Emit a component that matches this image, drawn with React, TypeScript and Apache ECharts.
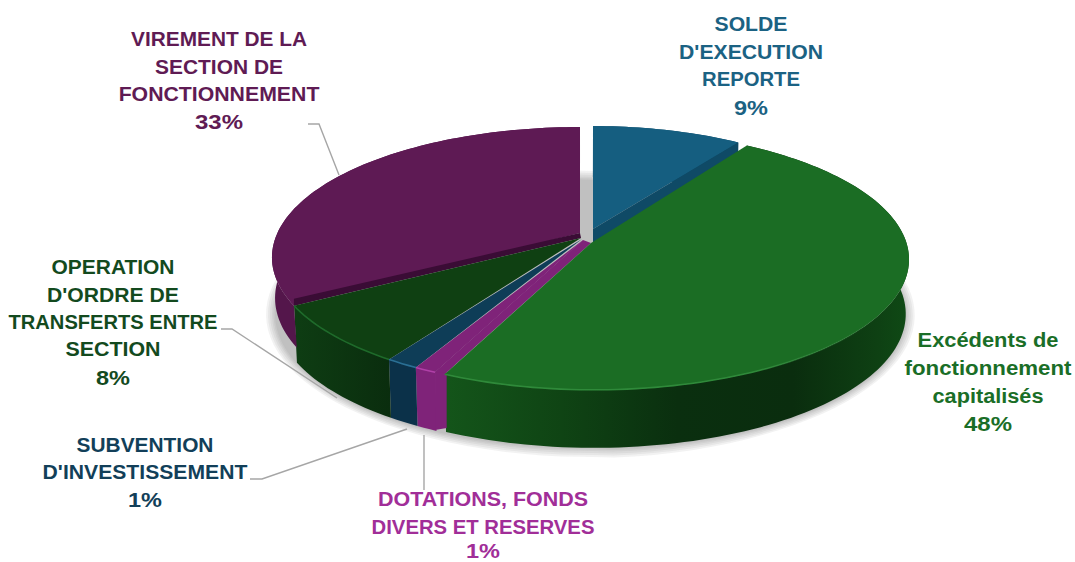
import React, { useEffect, useRef } from "react";
import * as echarts from "echarts";

// ---------- data ----------
const categories = [
  ["SOLDE", "D'EXECUTION", "REPORTE"],
  ["Excédents de", "fonctionnement", "capitalisés"],
  ["DOTATIONS, FONDS", "DIVERS ET RESERVES"],
  ["SUBVENTION", "D'INVESTISSEMENT"],
  ["OPERATION", "D'ORDRE DE", "TRANSFERTS ENTRE", "SECTION"],
  ["VIREMENT DE LA", "SECTION DE", "FONCTIONNEMENT"],
];
const values = [9.3, 47.5, 1.0, 1.49, 7.51, 33.2];

// ---------- styles / layout ----------
const labelColors = ["#1B6283", "#1A6E27", "#A12E98", "#123F59", "#134A1E", "#5F1B54"];
const topColors = ["#155E80", "#1B6D24", "#7F2379", "#0E3D57", "#0F4012", "#5E1A54"];
const wallColors = ["#0F4A66", "#0C3F12", "#7F2379", "#0B3149", "#0B3210", "#54164B"];
const rimColors = ["#155E80", "#2F8A3A", "#B040A8", "#2A6F94", "#1E6A2A", "#5E1A54"];
const zOrder = [15, 17, 14, 13, 12, 10];
const apexes = [[593, 229], [591, 243], [583, 240], [582, 239], [581, 238], [580, 233]];
const rimOffsets = [[11, -1], [12, 2], [0, 0], [0, 0], [0, 0], [-2, 0]];
const radiiX = [296, 311.5, 306.6, 306.6, 306.6, 304.6];
const wallHeights = [55, 54, 55, 55, 55, 40];
const CX = 582, CY = 238, RY = 127.5, K = 0.149;

const labelCenters = [751, 988, 483, 145, 113, 219];
const labelLineYs = [
  [24, 52, 79, 108],
  [340, 368, 396, 424],
  [499, 527, 551],
  [445, 472, 500],
  [267, 295, 322, 349, 378],
  [39, 67, 94, 122],
];
const labelWidths = [
  [73, 144, 98, 34],
  [141, 167, 111, 48],
  [210, 223, 34],
  [137, 205, 34],
  [123, 132, 209, 95, 34],
  [176, 128, 201, 48],
];
const leaderLines = [
  [[308, 124], [319, 124], [339, 175]],
  [[221, 329], [232, 329], [337, 398]],
  [[250, 479], [262, 479], [407, 429]],
  [[424, 435], [424, 490]],
];
const FONT_SIZE = 20;
const FONT_FAMILY = '"Liberation Sans", Arial, sans-serif';

// ---------- geometry ----------
const total = values.reduce((a, b) => a + b, 0);
const bounds: number[] = [0];
values.forEach((v) => bounds.push(bounds[bounds.length - 1] + (v / total) * 360));

function rim(deg: number, i: number): number[] {
  const t = (deg * Math.PI) / 180;
  const u = Math.sin(t), v = -Math.cos(t), d = 1 - K * v;
  return [CX + rimOffsets[i][0] + (radiiX[i] * u) / d, CY + rimOffsets[i][1] + (RY * v) / d];
}
function lower(deg: number, i: number): number[] {
  const p = rim(deg, i);
  const v = -Math.cos((deg * Math.PI) / 180);
  return [CX + (p[0] - CX) * 0.99, p[1] + wallHeights[i] + 4 * v];
}
function arc(a: number, b: number, i: number, f = rim): number[][] {
  const pts: number[][] = [];
  const n = Math.max(2, Math.ceil(Math.abs(b - a) / 1.5));
  for (let s = 0; s <= n; s++) pts.push(f(a + ((b - a) * s) / n, i));
  return pts;
}
const hGrad = (stops: [number, string][]) =>
  new echarts.graphic.LinearGradient(0, 0, 1, 0, stops.map(([offset, color]) => ({ offset, color })));

function renderSlice(params: any) {
  const i = params.dataIndex;
  const a = bounds[i], b = bounds[i + 1];
  const children: any[] = [];
  const apex = apexes[i];
  const top = arc(a, b, i);
  const start = rim(a, i), end = rim(b, i);

  // outer wall
  let wallFill: any = wallColors[i];
  if (i === 1) {
    wallFill = hGrad([
      [0, "#14551A"], [0.25, "#0F4414"], [0.5, "#0A2F0F"], [0.75, "#0A2D0E"], [0.93, "#0E4013"], [1, "#0F4A15"],
    ]);
  }
  if (i === 4) wallFill = hGrad([[0, "#0E3D13"], [1, "#0A2D0E"]]);
  if (i === 5) wallFill = "#54164B";
  children.push({
    type: "polygon",
    z2: 3 + i,
    shape: { points: [...arc(a, b, i), ...arc(b, a, i, lower)] },
    style: { fill: wallFill },
  });

  // top face
  children.push({
    type: "polygon",
    z2: zOrder[i],
    shape: { points: [apex, ...top] },
    style: { fill: topColors[i] },
  });

  // cut faces
  if (i === 0) {
    children.push({
      type: "polygon",
      z2: 16,
      shape: { points: [apex, end, [end[0], end[1] + 10], [apex[0], apex[1] + 16]] },
      style: { fill: wallColors[0] },
    });
  }
  if (i === 2) {
    const nextStart = rim(a, 1);
    const low = lower(a, 2);
    children.push({
      type: "polygon",
      z2: 9,
      shape: {
        points: [apex, start, [start[0], low[1] - 1], [nextStart[0] + 2, low[1] - 3], [nextStart[0] + 2, start[1]]],
      },
      style: { fill: topColors[2] },
    });
    children.push({
      type: "polygon",
      z2: 14,
      shape: { points: [apex, start, [nextStart[0] + 2, start[1]], apexes[1]] },
      style: { fill: topColors[2] },
    });
  }
  if (i === 5) {
    children.push({
      type: "polygon",
      z2: 11,
      shape: { points: [apex, [start[0], start[1] - 7], start, apexes[4]] },
      style: { fill: "#3A0C35" },
    });
  }

  // lit rim
  if (i >= 1 && i <= 4) {
    const from = i === 1 ? Math.max(a, 120) : a;
    children.push({
      type: "polyline",
      z2: 20,
      shape: { points: arc(from, b, i) },
      style: {
        fill: "none",
        lineWidth: 1.6,
        stroke:
          i === 1
            ? hGrad([[0, rimColors[1]], [0.7, rimColors[1]], [1, "rgba(47,138,58,0)"]])
            : rimColors[i],
      },
    });
  }
  return { type: "group", children };
}

// soft halo under the pie, stacked translucent outlines
const haloGrow = [9, 7, 5, 3, 1.5, 0];
function renderShadow() {
  const pts: number[][] = [];
  for (let d = 0; d < 360; d += 3) {
    const p = lower(d, d < 180 ? 1 : 4);
    pts.push([p[0], p[1] + 1]);
  }
  const mx = 590, my = 300;
  const children = haloGrow.map((g, idx) => ({
    type: "polygon",
    z2: 1 + idx * 0.01,
    shape: {
      points: pts.map(([x, y]) => {
        const dx = x - mx, dy = y - my, len = Math.hypot(dx, dy) || 1;
        return [x + (dx / len) * g, y + (dy / len) * g];
      }),
    },
    style: { fill: "rgba(110,110,110,0.09)" },
  }));
  return { type: "group", children };
}

function measure(text: string): number {
  const ctx = document.createElement("canvas").getContext("2d")!;
  ctx.font = `bold ${FONT_SIZE}px ${FONT_FAMILY}`;
  return ctx.measureText(text).width;
}

function buildLabels() {
  const out: any[] = [];
  categories.forEach((lines, i) => {
    const all = [...lines, `${Math.round(values[i])}%`];
    all.forEach((line, j) => {
      out.push({
        type: "text",
        z: 30,
        x: labelCenters[i],
        y: labelLineYs[i][j],
        scaleX: labelWidths[i][j] / measure(line),
        style: {
          text: line,
          fill: labelColors[i],
          font: `bold ${FONT_SIZE}px ${FONT_FAMILY}`,
          align: "center",
          verticalAlign: "middle",
        },
      });
    });
  });
  return out;
}

export default function App() {
  const ref = useRef<HTMLDivElement>(null);
  useEffect(() => {
    document.body.style.margin = "0";
    document.body.style.overflow = "hidden";
    const chart = echarts.init(ref.current!, null, { renderer: "svg" });
    chart.setOption({
      animation: false,
      backgroundColor: "#ffffff",
      series: [
        {
          type: "custom",
          coordinateSystem: "none",
          silent: true,
          z: 1,
          data: [1],
          renderItem: renderShadow,
        },
        {
          type: "custom",
          coordinateSystem: "none",
          silent: true,
          z: 3,
          data: values,
          renderItem: renderSlice,
        },
      ],
      graphic: {
        elements: [
          ...leaderLines.map((points) => ({
            type: "polyline",
            z: 2,
            shape: { points },
            style: { fill: "none", stroke: "#A6A6A6", lineWidth: 1.4 },
          })),
          ...buildLabels(),
        ],
      },
    });
    return () => chart.dispose();
  }, []);
  return <div ref={ref} style={{ width: 1075, height: 562 }} />;
}
